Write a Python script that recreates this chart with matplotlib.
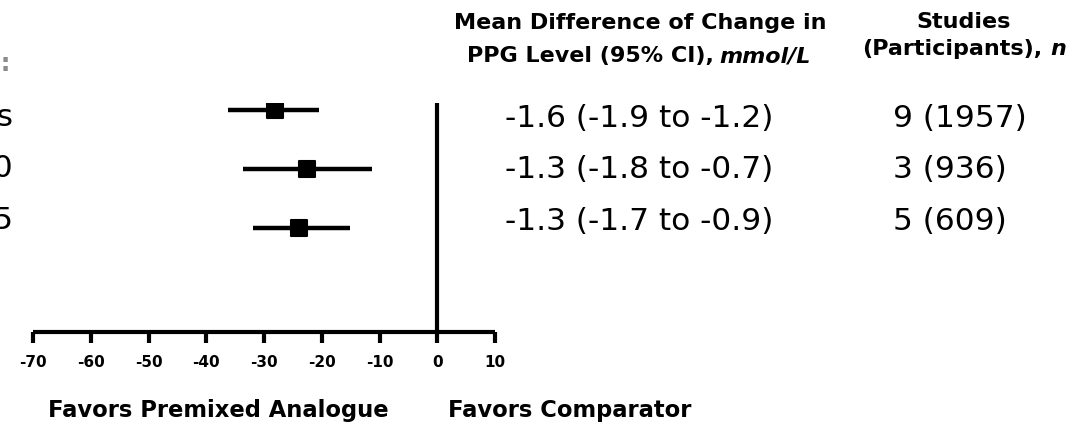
import numpy as np
import matplotlib
matplotlib.use("Agg")
import matplotlib.pyplot as plt
from matplotlib.markers import MarkerStyle

# Data
subgroups = ["All studies", "Biphasic insulin aspart 30", "Insulin lispro mix 25"]
mean_diff = [-28.1, -22.6, -23.9]
ci_low = [-36.2, -33.6, -31.9]
ci_high = [-20.5, -11.3, -15.1]
ci_text = ["-1.6 (-1.9 to -1.2)", "-1.3 (-1.8 to -0.7)", "-1.3 (-1.7 to -0.9)"]
studies_text = ["9 (1957)", "3 (936)", "5 (609)"]
x_ticks = [-70, -60, -50, -40, -30, -20, -10, 0, 10]

W, H = 1072, 429
plt.rcParams['font.family'] = 'DejaVu Sans'
fig = plt.figure(figsize=(W / 100, H / 100), dpi=100)


def fx(px):
    return px / W


def fy(py):
    return 1 - py / H


# Axes spanning the forest area (pixel box measured from reference)
ax = fig.add_axes([fx(33), fy(332), fx(495) - fx(33), fy(103) - fy(332)])
rows = np.arange(len(subgroups))[::-1]  # top row first
ax.set_xlim(x_ticks[0], x_ticks[-1])
ax.set_ylim(-1.763, 2.119)

mean_arr = np.array(mean_diff)
xerr = [mean_arr - np.array(ci_low), np.array(ci_high) - mean_arr]
ax.errorbar(mean_arr, rows, xerr=xerr, fmt='none', ecolor='black',
            elinewidth=3.2, capsize=0)
ax.plot(mean_arr, rows, linestyle='none',
        marker=MarkerStyle('s', joinstyle='round'), markersize=11,
        markerfacecolor='black', markeredgecolor='black', markeredgewidth=1.5)
ax.axvline(0, color='black', lw=3)

for s in ['top', 'right', 'left']:
    ax.spines[s].set_visible(False)
ax.spines['bottom'].set_linewidth(3)
ax.spines['bottom'].set_capstyle('butt')
ax.set_yticks([])
ax.set_xticks(x_ticks)
ax.set_xticklabels([str(t) for t in x_ticks], fontsize=11, fontweight='bold')
ax.tick_params(axis='x', direction='out', length=8, width=3, pad=8.5)

# Subgroup labels (mostly cut off by the left edge in the reference)
fig.text(fx(11), fy(71), "Insulin regimen:", ha='right', va='baseline',
         fontsize=18, fontweight='bold', color='#8c8c8c')
for i, lab in enumerate(subgroups):
    fig.text(fx(13), fy(126 + 51.5 * i), lab, ha='right', va='baseline',
             fontsize=22.5)

# Right-hand table
for i in range(len(ci_text)):
    yb = fy(127 + 51.5 * i)
    fig.text(fx(505), yb, ci_text[i], ha='left', va='baseline', fontsize=22.5)
    fig.text(fx(893), yb, studies_text[i], ha='left', va='baseline', fontsize=22.5)

# Column headers
fig.text(fx(640), fy(29), "Mean Difference of Change in", ha='center',
         va='baseline', fontsize=16, fontweight='bold')
t1 = fig.text(fx(467), fy(62), "PPG Level (95% CI),", ha='left',
              va='baseline', fontsize=16, fontweight='bold')
ax.annotate("mmol/L", xy=(1, 0), xycoords=t1, xytext=(4, 0),
            textcoords='offset points', ha='left', va='bottom', fontsize=16,
            fontweight='bold', fontstyle='italic', annotation_clip=False)

fig.text(fx(964), fy(28), "Studies", ha='center', va='baseline',
         fontsize=16, fontweight='bold')
t2 = fig.text(fx(862), fy(55), "(Participants),", ha='left', va='baseline',
              fontsize=16, fontweight='bold')
ax.annotate("n", xy=(1, 0), xycoords=t2, xytext=(6, 0),
            textcoords='offset points', ha='left', va='bottom', fontsize=16,
            fontweight='bold', fontstyle='italic', annotation_clip=False)

# Direction labels under the axis
fig.text(fx(48), fy(417), "Favors Premixed Analogue", ha='left',
         va='baseline', fontsize=16.3, fontweight='bold')
fig.text(fx(448), fy(417), "Favors Comparator", ha='left',
         va='baseline', fontsize=16.3, fontweight='bold')

fig.savefig("out.png", dpi=100, facecolor='white')
